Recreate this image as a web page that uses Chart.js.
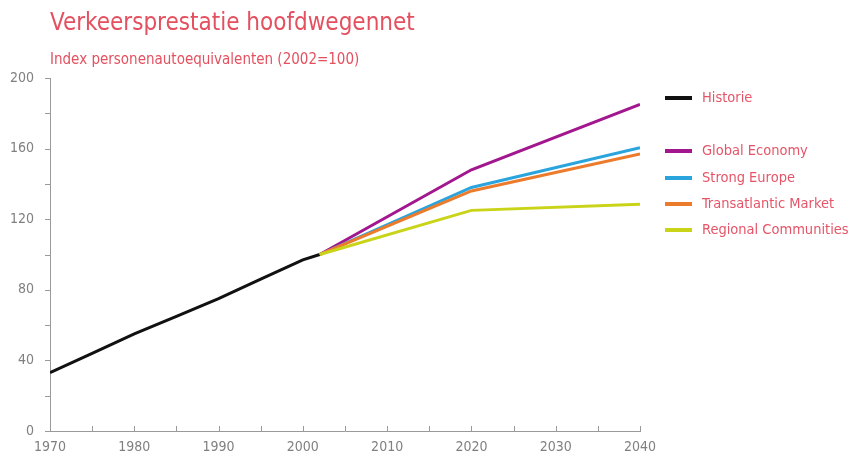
<!DOCTYPE html>
<html>
<head>
<meta charset="utf-8">
<script src="https://cdn.jsdelivr.net/npm/chart.js@4"></script>
<style>
  body { margin: 0; background: #fff; font-family: "Liberation Sans Narrow", "DejaVu Sans Condensed", sans-serif; }
  #wrap { position: relative; width: 855px; height: 457px; }
  #title { position: absolute; left: 50px; top: 8px; font-size: 24px; color: #e4505f; }
  #sub { position: absolute; left: 50px; top: 50px; font-size: 15px; color: #e4505f; }
  #legend { position: absolute; left: 665px; top: 0; }
  .item { position: absolute; white-space: nowrap; font-size: 14.5px; color: #e65468; }
  .swatch { position: absolute; left: 0; width: 27px; height: 4px; }
  .label { position: absolute; left: 37px; top: -9px; }
</style>
</head>
<body>
<div id="wrap">
  <canvas id="trafficChart" width="855" height="457"></canvas>
  <div id="title">Verkeersprestatie hoofdwegennet</div>
  <div id="sub">Index personenautoequivalenten (2002=100)</div>
  <div id="legend"></div>
</div>
<script>
const historyYears = [1970, 1975, 1980, 1985, 1990, 1995, 2000, 2002];
const historyValues = [33, 44, 55, 65, 75, 86, 97, 100];

const scenarioYears = [2002, 2020, 2040];
const globalEconomy = [100, 148, 185];
const strongEurope = [100, 138, 160.5];
const transatlanticMarket = [100, 136, 157];
const regionalCommunities = [100, 125, 128.5];

const seriesNames = ['Historie', 'Global Economy', 'Strong Europe', 'Transatlantic Market', 'Regional Communities'];
const seriesColors = ['#111111', '#a2168e', '#2aa4dc', '#ec7b2c', '#c9d418'];
const legendRows = [98, 151, 178, 204, 230];

function toPoints(xs, ys) {
    return xs.map((x, i) => ({ x: x, y: ys[i] }));
}

const datasets = [
    toPoints(historyYears, historyValues),
    toPoints(scenarioYears, globalEconomy),
    toPoints(scenarioYears, strongEurope),
    toPoints(scenarioYears, transatlanticMarket),
    toPoints(scenarioYears, regionalCommunities)
].map((pts, i) => ({
    label: seriesNames[i],
    data: pts,
    borderColor: seriesColors[i],
    borderWidth: 3,
    pointRadius: 0,
    tension: 0
}));
// draw scenarios bottom-up so purple ends on top like the original
const ordered = [datasets[4], datasets[3], datasets[2], datasets[1], datasets[0]];

// legend
const legend = document.getElementById('legend');
seriesNames.forEach((name, i) => {
    const item = document.createElement('div');
    item.className = 'item';
    item.style.top = legendRows[i] + 'px';
    item.innerHTML = '<div class="swatch" style="top:-2px;background:' + seriesColors[i] + '"></div>' +
        '<div class="label">' + name + '</div>';
    legend.appendChild(item);
});

// small tick marks: x ones point up into the plot, y ones stick out left
const smallTicks = {
    id: 'smallTicks',
    afterDraw(chart) {
        const ctx = chart.ctx;
        const x = chart.scales.x, y = chart.scales.y;
        ctx.save();
        ctx.strokeStyle = '#9a9a9a';
        ctx.lineWidth = 1;
        ctx.beginPath();
        for (let yr = 1970; yr <= 2040; yr += 5) {
            const px = Math.round(x.getPixelForValue(yr)) + 0.5;
            ctx.moveTo(px, y.bottom);
            ctx.lineTo(px, y.bottom - 5);
        }
        for (let v = 0; v <= 200; v += 20) {
            const py = Math.round(y.getPixelForValue(v)) + 0.5;
            ctx.moveTo(x.left, py);
            ctx.lineTo(x.left - 5, py);
        }
        ctx.stroke();
        ctx.restore();
    }
};

const ctx = document.getElementById('trafficChart').getContext('2d');
new Chart(ctx, {
    type: 'line',
    data: { datasets: ordered },
    options: {
        responsive: false,
        animation: false,
        layout: { padding: { top: 78, right: 215, left: 0, bottom: 0 } },
        plugins: { legend: { display: false }, tooltip: { enabled: false } },
        scales: {
            x: {
                type: 'linear',
                min: 1970,
                max: 2040,
                ticks: {
                    stepSize: 10,
                    color: '#808080',
                    padding: 0,
                    maxRotation: 0,
                    font: { family: '"Liberation Sans Narrow", "DejaVu Sans Condensed", sans-serif', size: 14 },
                    callback: v => String(v)
                },
                grid: { display: false },
                border: { color: '#9a9a9a', width: 1 },
                afterFit: s => { s.height = 26; }
            },
            y: {
                min: 0,
                max: 200,
                ticks: {
                    stepSize: 40,
                    color: '#808080',
                    padding: 8,
                    font: { family: '"Liberation Sans Narrow", "DejaVu Sans Condensed", sans-serif', size: 14 }
                },
                grid: { display: false },
                border: { color: '#9a9a9a', width: 1 },
                afterFit: s => { s.width = 50; }
            }
        }
    },
    plugins: [smallTicks]
});
</script>
</body>
</html>
